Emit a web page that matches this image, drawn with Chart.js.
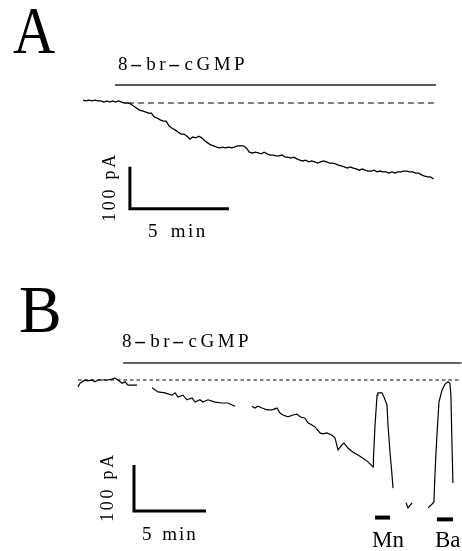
<!DOCTYPE html>
<html>
<head>
<meta charset="utf-8">
<script src="https://cdn.jsdelivr.net/npm/chart.js@4.4.1/dist/chart.umd.min.js"></script>
<style>
  body { margin: 0; background: #fff; }
  #wrap { position: relative; width: 462px; height: 551px; overflow: hidden; }
  canvas { position: absolute; left: 0; }
  .lbl { position: absolute; font-family: "Liberation Serif", serif; line-height: 1; white-space: nowrap; color: #000; }
  .rot { text-align: center; transform: rotate(-90deg); }
  .drug { font-size: 19px; letter-spacing: 3.5px; }
  .dash { display: inline-block; letter-spacing: 0; transform: scaleX(2); margin: 0 7px 0 2px; }
</style>
</head>
<body>
<div id="wrap">
  <canvas id="chartA" width="462" height="270" style="top:0"></canvas>
  <canvas id="chartB" width="462" height="281" style="top:270px"></canvas>

  <div class="lbl" style="left:13px; top:-4px; font-size:68px; transform:scaleX(0.86); transform-origin:left;">A</div>
  <div class="lbl drug" style="left:118px; top:54px;">8<span class="dash">-</span>br<span class="dash">-</span>cGMP</div>
  <div class="lbl rot" style="left:69px; top:178px; width:80px; font-size:18px; letter-spacing:2.7px;">100 pA</div>
  <div class="lbl" style="left:148px; top:221px; font-size:19px; letter-spacing:2.5px; word-spacing:3.5px;">5 min</div>

  <div class="lbl" style="left:19px; top:275px; font-size:68px; transform:scaleX(0.94); transform-origin:left;">B</div>
  <div class="lbl drug" style="left:122px; top:331px;">8<span class="dash">-</span>br<span class="dash">-</span>cGMP</div>
  <div class="lbl rot" style="left:67px; top:478px; width:80px; font-size:18px; letter-spacing:2.7px;">100 pA</div>
  <div class="lbl" style="left:142px; top:524px; font-size:19px; letter-spacing:2px; word-spacing:2px;">5 min</div>
  <div class="lbl" style="left:372px; top:528px; font-size:23px;">Mn</div>
  <div class="lbl" style="left:435px; top:528px; font-size:23px;">Ba</div>
</div>

<script>
// ---- panel A: whole-cell current, one sample every 0.15 min ----
var aTimeStep = 0.15;
var aCurrent = [
  7, 5, 7, 5, 7, 5, 5, 2, 5, 2,
  5, 2, 5, 2, 0, 0, -2, -7, -12, -17,
  -19, -21, -24, -24, -33, -36, -40, -43, -43, -55,
  -60, -64, -69, -74, -74, -79, -86, -81, -83, -79,
  -83, -90, -95, -100, -102, -105, -107, -105, -107, -105,
  -107, -105, -102, -102, -102, -107, -117, -119, -117, -119,
  -121, -117, -121, -124, -124, -126, -126, -124, -129, -129,
  -131, -129, -133, -136, -138, -136, -140, -138, -140, -143,
  -140, -138, -140, -143, -143, -145, -148, -150, -152, -155,
  -152, -155, -157, -160, -157, -160, -162, -162, -160, -164,
  -162, -164, -164, -167, -164, -167, -164, -164, -162, -162,
  -164, -164, -167, -167, -171, -174, -176, -176, -181
];
var aDrug = { start: 1.62, end: 17.83, level: 43 };
var aBaseline = { start: 2.27, end: 17.83 };
var aScaleBar = { t: 2.37, i: -252, dt: 5, di: 100 };

// ---- panel B: trace pieces (min, pA) ----
var bSeg1Time = [-0.14, 0, 0.35, 0.56, 0.83, 1.04, 1.25, 1.53, 1.94, 2.22, 2.43, 2.64, 2.92, 3.13, 3.33, 3.68, 3.96];
var bSeg1Current = [-15, -7, 0, -2, 0, -4, 0, 0, 0, 2, 4, 0, -7, -4, -11, -11, -11];

var bSeg2Time = [5.00, 5.42, 5.90, 6.39, 6.60, 6.81, 7.15, 7.43, 7.78, 7.99, 8.33, 8.54, 8.89, 9.38, 9.86, 10.28, 10.76];
var bSeg2Current = [-17, -26, -28, -33, -28, -37, -33, -43, -39, -48, -43, -48, -43, -48, -50, -50, -57];

var bSeg3Time = [11.94, 12.15, 12.36, 12.64, 12.99, 13.33, 13.68, 13.89, 14.10, 14.44, 14.79, 15.07, 15.28, 15.63,
  15.83, 16.11, 16.32, 16.67, 16.88, 17.15, 17.50, 17.71, 17.92, 18.19, 18.33, 18.61, 18.96, 19.31, 19.65,
  20.00, 20.35, 20.38, 20.49, 20.63, 20.69, 20.97, 21.11, 21.32, 21.39, 21.53, 21.67, 21.74];
var bSeg3Current = [-57, -61, -57, -61, -65, -65, -61, -72, -76, -80, -76, -74, -80, -83,
  -93, -98, -102, -115, -117, -115, -120, -126, -152, -141, -137, -148, -157, -163, -170,
  -178, -189, -170, -98, -33, -28, -28, -37, -54, -98, -157, -207, -235];

var bSeg4Time = [22.64, 22.78, 23.06];
var bSeg4Current = [-267, -278, -267];

var bSeg5Time = [24.17, 24.44, 24.58, 24.65, 24.72, 24.79, 24.93, 25.14, 25.35, 25.56, 25.69, 25.76, 25.83, 25.90];
var bSeg5Current = [-278, -270, -265, -207, -160, -120, -48, -22, -9, -4, -7, -33, -135, -224];

var bDrug = { start: 2.99, end: 26.5, level: 37 };
var bBaseline = { start: -0.14, end: 26.4 };
var bScaleBar = { t: 3.75, i: -285, dt: 5, di: 100 };
var bMn = { start: 20.49, end: 21.53, level: -299 };
var bBa = { start: 24.79, end: 25.90, level: -303 };

function zip(ts, vs) {
  return ts.map(function(t, k) { return { x: t, y: vs[k] }; });
}
function sampled(step, vs) {
  return vs.map(function(v, k) { return { x: k * step, y: v }; });
}
function hline(seg) {
  var lvl = seg.level === undefined ? 0 : seg.level;
  return [{ x: seg.start, y: lvl }, { x: seg.end, y: lvl }];
}
function scaleBar(sb) {
  return [{ x: sb.t, y: sb.i + sb.di }, { x: sb.t, y: sb.i }, { x: sb.t + sb.dt, y: sb.i }];
}

function trace(data, w) {
  return { data: data, borderColor: '#000', borderWidth: w || 1.2, pointRadius: 0, tension: 0, fill: false };
}

function makeChart(id, datasets, xr, yr) {
  return new Chart(document.getElementById(id).getContext('2d'), {
    type: 'line',
    data: { datasets: datasets },
    options: {
      responsive: false,
      animation: false,
      devicePixelRatio: 1,
      layout: { padding: 0 },
      plugins: { legend: { display: false }, tooltip: { enabled: false } },
      scales: {
        x: { type: 'linear', display: false, min: xr[0], max: xr[1] },
        y: { type: 'linear', display: false, min: yr[0], max: yr[1] }
      }
    }
  });
}

// A: 19.8 px per min, 0.42 px per pA
makeChart('chartA', [
  trace(sampled(aTimeStep, aCurrent), 1.3),
  Object.assign(trace(hline(aDrug), 1.4), { borderColor: '#222' }),
  Object.assign(trace(hline(aBaseline), 1.2), { borderDash: [6, 4] }),
  Object.assign(trace(scaleBar(aScaleBar), 3), { borderJoinStyle: 'miter', borderCapStyle: 'butt' })
], [-4.19, 19.14], [-397.6, 245.2]);

// B: 14.4 px per min, 0.46 px per pA
makeChart('chartB', [
  trace(zip(bSeg1Time, bSeg1Current)),
  trace(zip(bSeg2Time, bSeg2Current)),
  trace(zip(bSeg3Time, bSeg3Current)),
  trace(zip(bSeg4Time, bSeg4Current)),
  trace(zip(bSeg5Time, bSeg5Current)),
  Object.assign(trace(hline(bDrug), 1.3), { borderColor: '#333' }),
  Object.assign(trace(hline(bBaseline), 1), { borderDash: [3.5, 3] }),
  Object.assign(trace(scaleBar(bScaleBar), 3), { borderJoinStyle: 'miter', borderCapStyle: 'butt' }),
  trace(hline(bMn), 4),
  trace(hline(bBa), 4)
], [-5.556, 26.53], [-371.7, 239.1]);
</script>
</body>
</html>
